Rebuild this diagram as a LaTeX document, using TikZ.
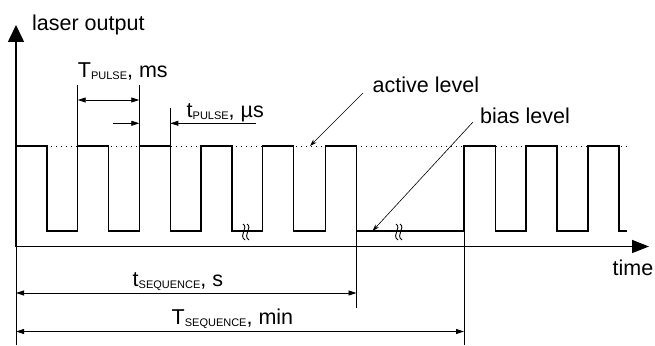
\documentclass[tikz,border=0pt]{standalone}
\usepackage{fontspec}
\setmainfont{Liberation Sans}
\usetikzlibrary{arrows.meta}
\newcommand{\lowsc}[1]{\raisebox{-2.5pt}{\fontsize{11}{11}\selectfont #1}}

\begin{document}
\begin{tikzpicture}[x=1pt, y=-1pt, >={Triangle[length=8pt,width=5pt]},
    signal/.style={line width=1.5pt},
    dimline/.style={line width=0.8pt},
    leader/.style={line width=0.6pt},
    lbl/.style={inner sep=0pt, anchor=base west, font=\fontsize{21.5}{25}\selectfont}]
    \useasboundingbox (0,0) rectangle (655,345);

    % axes
    \draw[line width=1.6pt, -{Triangle[length=17pt,width=16pt]}] (16,246.5) -- (16,25);
    \draw[line width=1.6pt, -{Triangle[length=17pt,width=13pt]}] (16,246.5) -- (649,246.5);
    \draw[dimline] (16,246.5) -- (16,345);
    \node[lbl] (ylbl) at (32,31) {laser output};
    \node[lbl] (xlbl) at (612.5,275) {time};

    % active level (dotted) and the pulse train
    \draw[line width=0.9pt, dash pattern=on 1pt off 4pt] (16,146) -- (627,146);
    \draw[signal] (16,146) -- ++(31,0)
        foreach \x in {77.7,139.3,201,262.7,325.5} { |- (\x,231) |- ++(31,-85) }
        |- (464,231) |- ++(31.5,-85)
        foreach \x in {526,588} { |- (\x,231) |- ++(31,-85) }
        -- ++(0,85) -- (627,231);

    % breaks in the time scale
    \foreach \bx in {243,396}
        \foreach \d in {0,4}
            \draw[line width=0.9pt] (\bx+\d,224) .. controls (\bx+\d+6,228) and (\bx+\d-5,235) .. (\bx+\d+2,240);

    % pulse period and pulse width
    \draw[dimline] (77.7,85) -- (77.7,146);
    \draw[dimline] (139.3,85) -- (139.3,146);
    \draw[dimline] (170.3,107.5) -- (170.3,146);
    \draw[dimline, <->] (77.7,100) -- (139.3,100);
    \draw[dimline, ->] (113,123.3) -- (139.3,123.3);
    \draw[dimline, ->] (256,123.3) -- (170.3,123.3);
    \node[lbl] (Tpulse) at (77.7,77) {T\lowsc{PULSE}, ms};
    \node[lbl] (tpulse) at (186.5,117) {t\lowsc{PULSE}, µs};

    % level labels with leaders
    \node[lbl] (active) at (372.5,92) {active level};
    \node[lbl] (bias) at (480,123) {bias level};
    \coordinate (activefrom) at (363,93);
    \coordinate (activeto) at (310,146);
    \coordinate (biasfrom) at (473,122);
    \coordinate (biasto) at (372.5,231);
    \draw[leader, -{Stealth[length=7pt,width=4.5pt]}] (activefrom) -- (activeto);
    \draw[leader, -{Stealth[length=7pt,width=4.5pt]}] (biasfrom) -- (biasto);

    % sequence width and sequence period
    \draw[dimline] (356.5,231) -- (356.5,308);
    \draw[dimline] (464,231) -- (464,345);
    \draw[dimline, <->] (16,293) -- (356.5,293);
    \draw[dimline, <->] (16,331.5) -- (464,331.5);
    \node[lbl] (tseq) at (132.5,286) {t\lowsc{SEQUENCE}, s};
    \node[lbl] (Tseq) at (171.5,324) {T\lowsc{SEQUENCE}, min};
\end{tikzpicture}
\end{document}
